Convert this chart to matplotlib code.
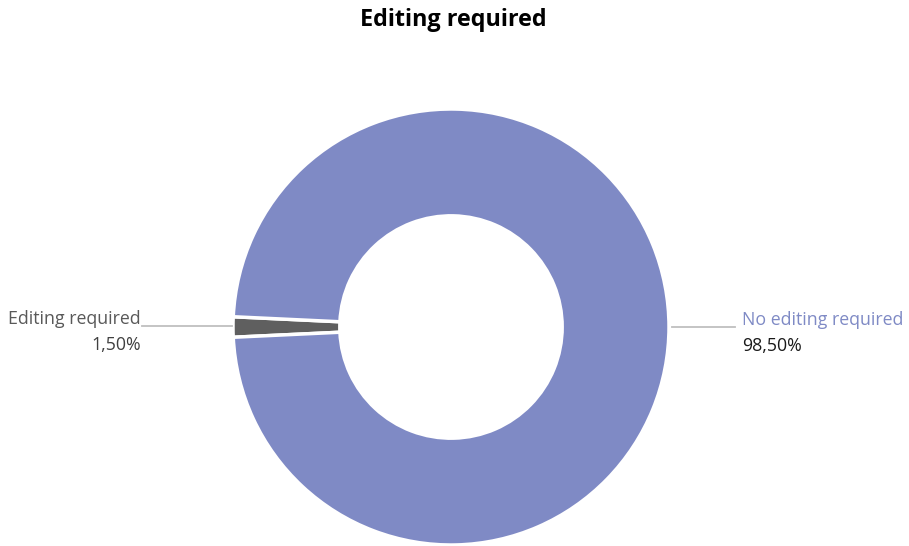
import matplotlib.pyplot as plt

labels = ["Editing required", "No editing required"]
shares = [1.50, 98.50]
colors = ["#5f5f5f", "#7f8ac5"]
label_colors = ["#595959", "#7f8ac5"]

W, H = 909, 546
fig = plt.figure(figsize=(W / 100, H / 100), dpi=100)
plt.rcParams["font.family"] = ["Open Sans", "DejaVu Sans"]

# donut centred at (451, 327) px, outer radius 218 px
cx, cy, r = 451, 327, 218
ax = fig.add_axes([(cx - r) / W, (H - cy - r) / H, 2 * r / W, 2 * r / H])

start = 180 - shares[0] * 3.6 / 2
ax.pie(shares, colors=colors, startangle=start, radius=1.0,
       wedgeprops=dict(width=0.49, edgecolor="white", linewidth=2.5))
ax.set_xlim(-1, 1)
ax.set_ylim(-1, 1)
ax.set_aspect("equal")
ax.axis("off")

def px(x, y):
    return (x - cx) / r, (cy - y) / r

# leader lines and labels
line_kw = dict(color="#bfbfbf", lw=1.3, clip_on=False)
x0, y0 = px(142, 326)
x1, _ = px(232, 326)
ax.plot([x0, x1], [y0, y0], **line_kw)
x0, y0 = px(672, 327)
x1, _ = px(735, 327)
ax.plot([x0, x1], [y0, y0], **line_kw)

fs = 12.8
tx, ty = px(141, 319)
ax.text(tx, ty, labels[0], ha="right", va="center", fontsize=fs,
        color=label_colors[0], clip_on=False)
tx, ty = px(141, 345)
ax.text(tx, ty, f"{shares[0]:.2f}%".replace(".", ","), ha="right", va="center",
        fontsize=fs, color="#404040", clip_on=False)
tx, ty = px(742, 320)
ax.text(tx, ty, labels[1], ha="left", va="center", fontsize=fs,
        color=label_colors[1], clip_on=False)
tx, ty = px(742, 346)
ax.text(tx, ty, f"{shares[1]:.2f}%".replace(".", ","), ha="left", va="center",
        fontsize=fs, color="#1a1a1a", clip_on=False)

fig.text(453 / W, 1 - 20 / H, "Editing required", ha="center", va="center",
         fontsize=16.8, fontweight="bold", color="black")

fig.savefig("out.png", dpi=100)
